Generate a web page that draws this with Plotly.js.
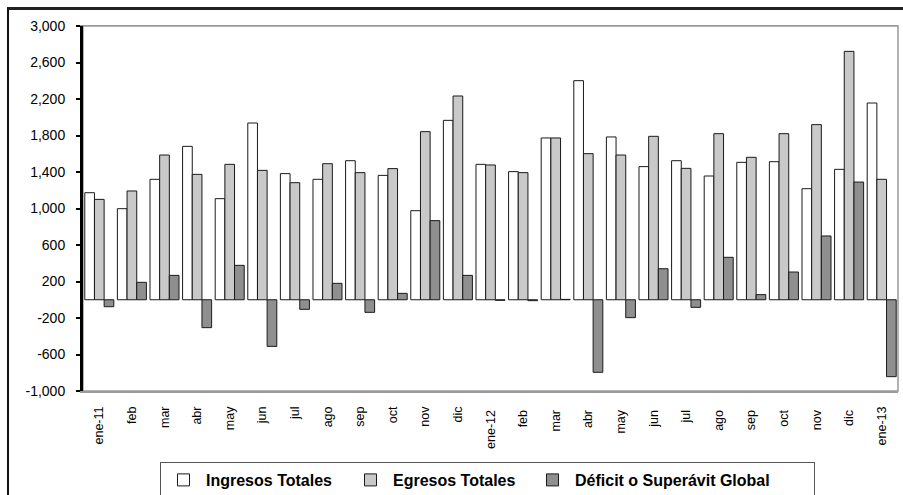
<!DOCTYPE html>
<html>
<head>
<meta charset="utf-8">
<script src="https://cdn.plot.ly/plotly-3.0.1.min.js"></script>
<style>
  html, body { margin: 0; padding: 0; background: #fff; }
  #wrap { position: relative; width: 903px; height: 495px; overflow: hidden; }
  #chart { position: absolute; left: 0; top: 0; width: 903px; height: 495px; }
  #frame { position: absolute; left: 7px; top: 7px; width: 1000px; height: 600px;
           border-left: 2px solid #111; border-top: 3px solid #222; pointer-events: none; }
</style>
</head>
<body>
<div id="wrap">
  <div id="chart"></div>
  <div id="frame"></div>
</div>
<script>
const months = ["ene-11","feb","mar","abr","may","jun","jul","ago","sep","oct","nov","dic",
                "ene-12 ","feb ","mar ","abr ","may ","jun ","jul ","ago ","sep ","oct ","nov ","dic ","ene-13"];
const ingresos = [1173, 998, 1320, 1681, 1108, 1937, 1382, 1320, 1524, 1363, 976, 1966,
                  1484, 1404, 1773, 2401, 1784, 1459, 1524, 1356, 1506, 1513, 1217, 1429, 2156];
const egresos  = [1100, 1192, 1586, 1374, 1484, 1418, 1283, 1491, 1393, 1437, 1842, 2233,
                  1477, 1393, 1773, 1601, 1586, 1791, 1440, 1820, 1561, 1820, 1919, 2722, 1320];
const deficit  = [-76, 191, 267, -306, 377, -511, -105, 180, -138, 70, 867, 267,
                  -6, -10, 4, -795, -196, 340, -83, 465, 56, 304, 699, 1290, -843];
const yTickVals = [-1000, -600, -200, 200, 600, 1000, 1400, 1800, 2200, 2600, 3000];
const yTickText = ["-1,000", "-600", "-200", "200", "600", "1,000", "1,400", "1,800", "2,200", "2,600", "3,000"];
const seriesNames = ["Ingresos Totales", "Egresos Totales", "Déficit o Superávit Global"];

const FONT = "Arial, 'Liberation Sans', sans-serif";
const outline = { color: "#1a1a1a", width: 1 };

const traces = [
  { type: "bar", name: seriesNames[0], x: months, y: ingresos, legendwidth: 137,
    marker: { color: "#ffffff", line: outline } },
  { type: "bar", name: seriesNames[1], x: months, y: egresos, legendwidth: 132,
    marker: { color: "#c9c9c9", line: outline } },
  { type: "bar", name: seriesNames[2], x: months, y: deficit, legendwidth: 234,
    marker: { color: "#8f8f8f", line: outline } }
];

const layout = {
  width: 903, height: 495,
  margin: { l: 83, r: 5, t: 26, b: 104, autoexpand: false },
  paper_bgcolor: "#ffffff", plot_bgcolor: "#ffffff",
  font: { family: FONT, color: "#000" },
  barmode: "group", bargap: 0.11, bargroupgap: 0,
  showlegend: true,
  legend: {
    orientation: "h", xref: "container", yref: "container",
    x: 160 / 903, xanchor: "left", y: 1 - 462 / 495, yanchor: "top",
    bordercolor: "#555", borderwidth: 1, itemwidth: 35,
    font: { family: FONT, size: 16, color: "#000", weight: "bold" },
    traceorder: "normal"
  },
  xaxis: {
    type: "category", range: [-0.5, 24.5], automargin: false,
    tickangle: -90, ticks: "", ticklabelstandoff: 9,
    tickfont: { family: FONT, size: 12.5, color: "#000" },
    showline: true, linecolor: "#9a9a9a", linewidth: 1.5, mirror: true,
    showgrid: false, zeroline: false, fixedrange: true
  },
  xaxis2: {
    overlaying: "x", anchor: "free", position: 0.25, side: "bottom", automargin: false,
    range: [-0.5, 24.5], tick0: 0, dtick: 0.5,
    ticks: "outside", ticklen: 3, tickwidth: 1, tickcolor: "#000",
    showticklabels: false, showline: true, linecolor: "#000", linewidth: 1.5,
    showgrid: false, zeroline: false, layer: "above traces"
  },
  yaxis: {
    range: [-1000, 3000], tickvals: yTickVals, ticktext: yTickText, automargin: false,
    ticks: "outside", ticklen: 4, tickwidth: 2, tickcolor: "#000",
    ticklabelstandoff: 8,
    tickfont: { family: FONT, size: 14, color: "#000" },
    showline: true, linecolor: "#000", linewidth: 3,
    showgrid: false, zeroline: false, fixedrange: true
  },
  shapes: [
    { type: "rect", xref: "paper", yref: "paper", x0: 0, x1: 1, y0: 0, y1: 1,
      line: { color: "#9a9a9a", width: 1.5 }, layer: "below" }
  ]
};

Plotly.newPlot("chart", traces, layout, { staticPlot: true, displayModeBar: false });
</script>
</body>
</html>
